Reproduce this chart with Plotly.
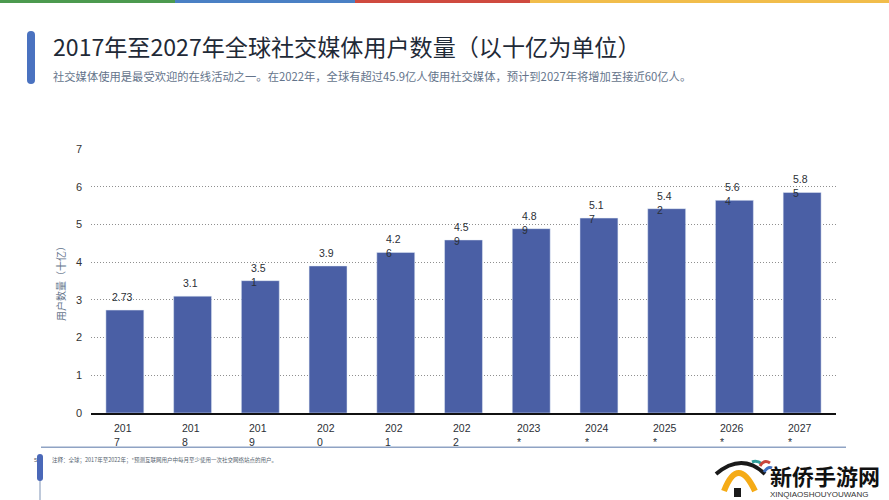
"""2017-2027 global social media users chart."""

import plotly.graph_objects as go

W, H = 889, 500

years = ["2017", "2018", "2019", "2020", "2021", "2022", "2023*", "2024*", "2025*", "2026*", "2027*"]
year_labels = ["201<br>7", "201<br>8", "201<br>9", "202<br>0", "202<br>1", "202<br>2",
               "2023<br>*", "2024<br>*", "2025<br>*", "2026<br>*", "2027<br>*"]
users = [2.73, 3.1, 3.51, 3.9, 4.26, 4.59, 4.89, 5.17, 5.42, 5.64, 5.85]
value_labels = ["2.73", "3.1", "3.5<br>1", "3.9", "4.2<br>6", "4.5<br>9",
                "4.8<br>9", "5.1<br>7", "5.4<br>2", "5.6<br>4", "5.8<br>5"]
y_ticks = [0, 1, 2, 3, 4, 5, 6, 7]
strip_colors = ["#4c9a4f", "#4a80c4", "#cf4a3f", "#f1bd4b"]
strip_edges = [0, 175, 355, 530, 889]

title = "2017年至2027年全球社交媒体用户数量（以十亿为单位）"
subtitle = "社交媒体使用是最受欢迎的在线活动之一。在2022年，全球有超过45.9亿人使用社交媒体，预计到2027年将增加至接近60亿人。"
footnote = "注释：全球；2017年至2022年；*预测互联网用户中每月至少使用一次社交网络站点的用户。"
CJK = "Noto Sans CJK SC, Liberation Sans, sans-serif"
LATIN = "Liberation Sans, Noto Sans CJK SC, sans-serif"


def px(x):
    return x / W


def py(y):
    return 1 - y / H


def box(x0, y0, x1, y1, color):
    return dict(type="rect", xref="paper", yref="paper", x0=px(x0), x1=px(x1),
                y0=py(y0), y1=py(y1), fillcolor=color, line_width=0, layer="above")


def pill(x0, y0, x1, y1, color):
    r = (x1 - x0) / 2
    path = (f"M {px(x0)} {py(y0 + r)} Q {px(x0)} {py(y0)} {px(x0 + r)} {py(y0)} "
            f"Q {px(x1)} {py(y0)} {px(x1)} {py(y0 + r)} L {px(x1)} {py(y1 - r)} "
            f"Q {px(x1)} {py(y1)} {px(x0 + r)} {py(y1)} Q {px(x0)} {py(y1)} {px(x0)} {py(y1 - r)} Z")
    return dict(type="path", xref="paper", yref="paper", path=path, fillcolor=color, line_width=0)


def arc(x0, y0, xc, yc, x1, y1, color, width):
    return dict(type="path", xref="paper", yref="paper", line=dict(color=color, width=width),
                path=f"M {px(x0)} {py(y0)} Q {px(xc)} {py(yc)} {px(x1)} {py(y1)}")


def text(x, y, s, size, color, family=CJK, anchor="left", **kw):
    return dict(xref="paper", yref="paper", x=px(x), y=py(y), text=s, showarrow=False,
                xanchor=anchor, yanchor="middle", font=dict(size=size, color=color, family=family), **kw)


fig = go.Figure(go.Bar(x=years, y=users, marker_color="#4a5fa5", width=0.56))

shapes = [box(strip_edges[i], 0, strip_edges[i + 1], 3, c) for i, c in enumerate(strip_colors)]
shapes += [
    pill(27, 31, 35, 84, "#4a72c0"),
    box(41, 446.5, 846, 448, "#8fa3c4"),
    box(39.5, 478, 40.5, 500, "#7f93b5"),
    pill(37, 454, 43, 481, "#4a68b8"),
    # site logo, bottom right
    arc(716, 474, 742, 452, 765, 474, "#1a1a1a", 4),
    arc(724, 491, 738, 455, 755, 491, "#f5ab16", 6),
    arc(752, 462, 757, 460, 762, 464, "#2f9e9a", 3),
    arc(760, 466, 764, 459, 770, 463, "#c8453c", 3),
    arc(764, 472, 768, 466, 772, 468, "#3f6fc0", 3),
    box(734, 488, 741, 497, "#1a1a1a"),
]

annotations = [
    text(51, 46, title, 23.1, "#1f2a37"),
    text(51, 76, subtitle, 11.3, "#64748b"),
    text(50, 460, footnote, 5.5, "#555f6e"),
    text(32, 460, "5", 6, "#555f6e", LATIN),
    text(768, 475, "<b>新侨手游网</b>", 22, "#111111", anchor="left"),
    text(768, 494, "XINQIAOSHOUYOUWANG", 8, "#333333", LATIN),
]
for i, (value, label) in enumerate(zip(users, value_labels)):
    annotations.append(dict(x=i, xref="x", y=value, yref="y", text=label, showarrow=False, xanchor="center",
                            yanchor="top", yshift=21, xshift=-2, align="left",
                            font=dict(size=10.5, color="#2b2f36", family=LATIN)))
for i, label in enumerate(year_labels):
    annotations.append(dict(x=i, xref="x", y=py(420), yref="paper", text=label, showarrow=False,
                            xanchor="center", yanchor="top", xshift=-2, align="left",
                            font=dict(size=10.5, color="#2b2f36", family=LATIN)))

fig.update_layout(
    width=W, height=H, margin=dict(l=0, r=0, t=0, b=0, autoexpand=False),
    paper_bgcolor="white", plot_bgcolor="white", showlegend=False,
    shapes=shapes, annotations=annotations,
    xaxis=dict(domain=[px(91), px(836)], type="category", categoryorder="array", categoryarray=years,
               range=[-0.5, 10.5], showticklabels=False, ticks="", showgrid=False, showline=True,
               linecolor="#111111", linewidth=2),
    yaxis=dict(domain=[py(413), py(149.1)], range=[0, 7], tickvals=y_ticks, showline=False, zeroline=False,
               showgrid=True, gridcolor="#8f8f8f", griddash="1px,2px", gridwidth=1,
               tickfont=dict(size=11, color="#333333", family=LATIN), ticks="", ticklabelstandoff=8,
               title=dict(text="用户数量（十亿）", font=dict(size=10, color="#64748b", family=CJK), standoff=8)),
)

# page default body margin would shift the whole slide by 8px
fig.write_html("out.html", post_script="document.body.style.margin = '0';",
               config={"displayModeBar": False})
